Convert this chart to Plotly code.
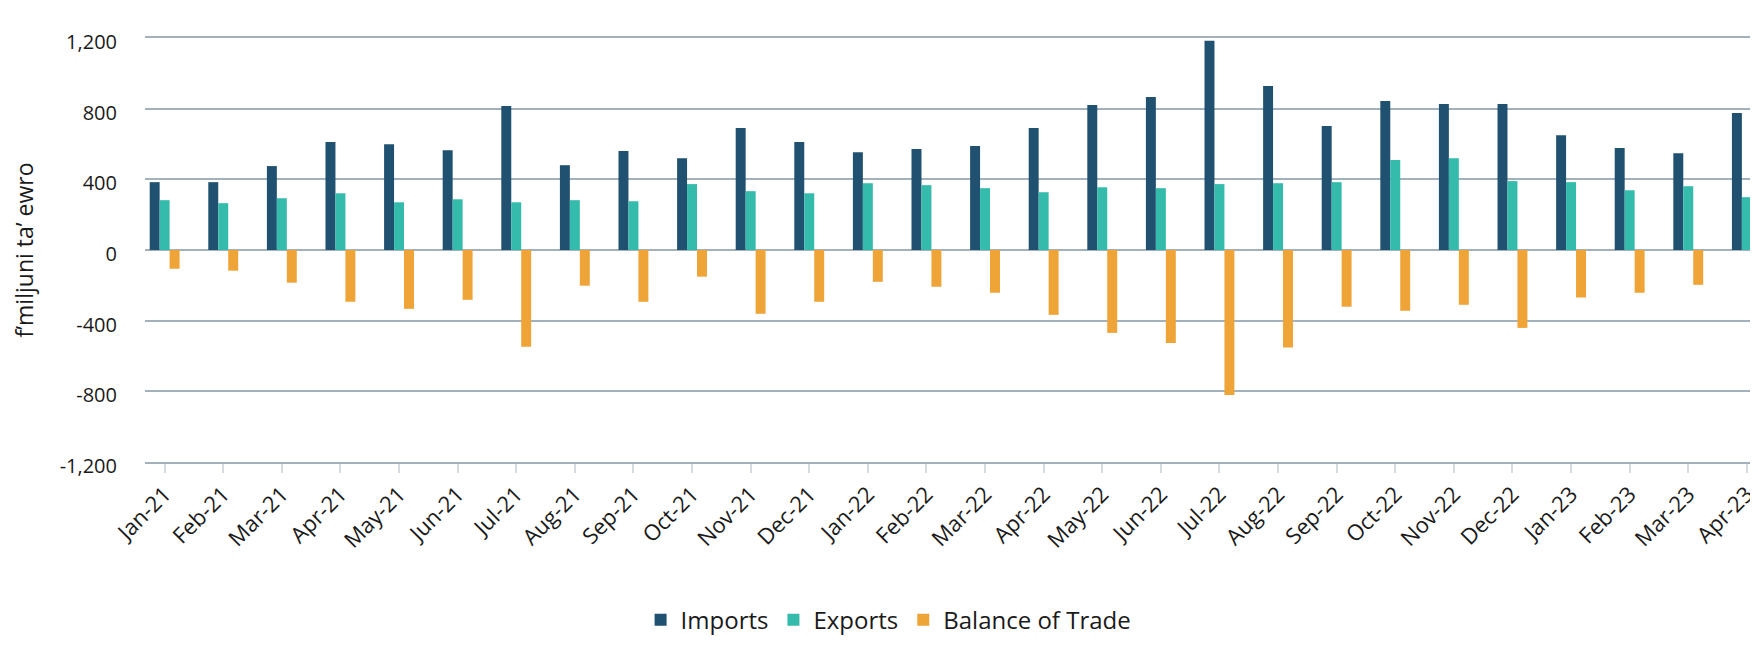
import plotly.graph_objects as go

months = ["Jan-21", "Feb-21", "Mar-21", "Apr-21", "May-21", "Jun-21", "Jul-21", "Aug-21",
          "Sep-21", "Oct-21", "Nov-21", "Dec-21", "Jan-22", "Feb-22", "Mar-22", "Apr-22",
          "May-22", "Jun-22", "Jul-22", "Aug-22", "Sep-22", "Oct-22", "Nov-22", "Dec-22",
          "Jan-23", "Feb-23", "Mar-23", "Apr-23"]

imports = [384, 384, 475, 611, 599, 564, 815, 480,
           560, 520, 690, 611, 554, 571, 588, 690,
           821, 866, 1184, 928, 702, 843, 826, 826,
           650, 577, 548, 775]

exports = [282, 265, 293, 321, 270, 287, 270, 282,
           276, 373, 333, 321, 378, 367, 350, 327,
           355, 350, 373, 378, 384, 509, 520, 390,
           384, 338, 361, 299]

balance = [-106, -117, -185, -293, -333, -282, -548, -202,
           -293, -151, -361, -293, -180, -208, -242, -367,
           -469, -526, -821, -552, -321, -344, -310, -441,
           -269, -242, -197, -484]

y_tick_vals = [-1200, -800, -400, 0, 400, 800, 1200]
y_tick_text = ["-1,200", "-800", "-400", "0", "400", "800", "1,200"]

y_title = "f’miljuni ta’ ewro"

FONT = "Open Sans"
TXT = "#1a1a1a"
GRID = "#a3b1bc"

fig = go.Figure()
fig.add_trace(go.Bar(name="Imports", x=months, y=imports, marker_color="#215171"))
fig.add_trace(go.Bar(name="Exports", x=months, y=exports, marker_color="#34BBAB"))
fig.add_trace(go.Bar(name="Balance of Trade", x=months, y=balance, marker_color="#EEA437"))

# the page body has an 8px margin, so the figure is sized/offset to compensate
fig.update_layout(
    template="none",
    width=1750, height=636, autosize=False,
    margin=dict(l=137, r=0, t=30, b=182, pad=0, autoexpand=False),
    paper_bgcolor="white", plot_bgcolor="white",
    barmode="group", bargap=0.49, bargroupgap=0,
    font=dict(family=FONT, size=20, color=TXT),
    showlegend=True,
    legend=dict(orientation="h", x=0.461, xanchor="center",
                y=-0.373, yanchor="middle", font=dict(size=24, color=TXT),
                traceorder="normal", itemclick=False, bgcolor="rgba(0,0,0,0)"),
)

fig.update_xaxes(
    type="category", range=[-0.335, 27.19], automargin=False,
    tickangle=-45, ticks="outside", ticklen=9, tickwidth=1.5, tickcolor="#d5dbe0",
    showgrid=False, zeroline=False,
    showline=True, mirror=True, linecolor=GRID, linewidth=1.5,
    tickfont=dict(size=22, color=TXT),
)

fig.update_yaxes(
    range=[-1200, 1200], tickvals=y_tick_vals, ticktext=y_tick_text, automargin=False,
    showgrid=True, gridcolor=GRID, gridwidth=1.5,
    zeroline=True, zerolinecolor=GRID, zerolinewidth=1.5,
    showline=False, ticks="", ticklabelstandoff=27, ticklabelshift=4,
    tickfont=dict(size=20, color=TXT),
    title=dict(text=y_title, font=dict(size=23, color=TXT), standoff=25),
)

fig.write_html("out.html")
